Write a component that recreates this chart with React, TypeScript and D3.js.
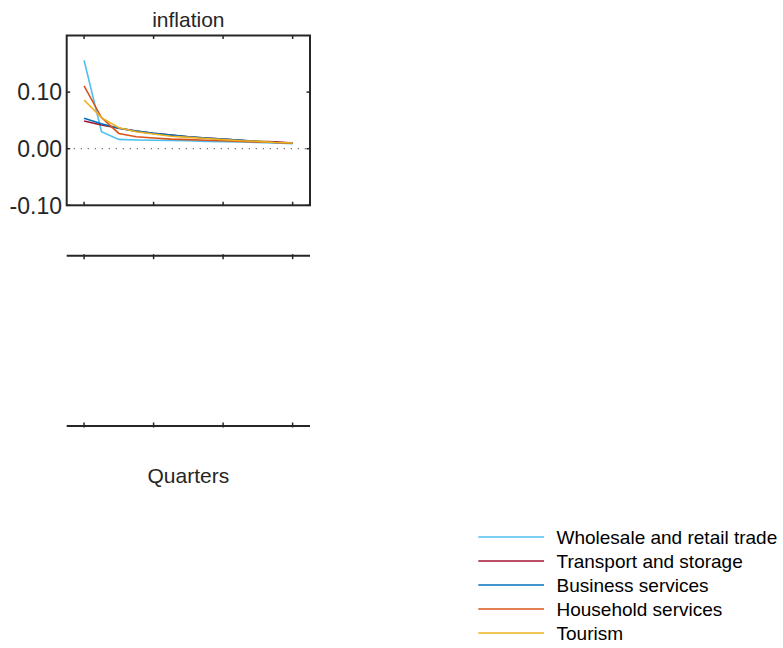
import React from "react";
import * as d3 from "d3";

// Quarter index for each response step
const quarters = [1, 2, 3, 4, 5, 6, 7, 8, 9, 10, 11, 12, 13];
const xTicks = [1, 5, 9, 13];
const yTicks = [-0.1, 0, 0.1];
const yTickLabels = ["-0.10", "0.00", "0.10"];

const sectorNames = [
  "Wholesale and retail trade",
  "Transport and storage",
  "Business services",
  "Household services",
  "Tourism",
];
const sectorColors = ["#4DBEEE", "#A2142F", "#0072BD", "#D95319", "#EDB120"];

// Inflation response per sector
const wholesale = [0.156, 0.03, 0.0165, 0.0155, 0.015, 0.0145, 0.014, 0.013, 0.0125, 0.012, 0.011, 0.01, 0.009];
const transport = [0.049, 0.042, 0.036, 0.031, 0.027, 0.024, 0.021, 0.019, 0.017, 0.015, 0.013, 0.012, 0.01];
const business = [0.054, 0.044, 0.036, 0.031, 0.027, 0.024, 0.021, 0.019, 0.017, 0.015, 0.013, 0.011, 0.01];
const household = [0.111, 0.055, 0.027, 0.021, 0.019, 0.017, 0.016, 0.015, 0.014, 0.013, 0.012, 0.011, 0.01];
const tourism = [0.086, 0.055, 0.037, 0.03, 0.026, 0.022, 0.02, 0.018, 0.016, 0.014, 0.013, 0.011, 0.01];

const seriesValues = [wholesale, transport, business, household, tourism];

const W = 783;
const H = 648;
const FONT = "'Liberation Sans', Arial, Helvetica, sans-serif";
const AX = "#262626";

export default function App() {
  const left = 66.7;
  const right = 310;
  const top = 35.5;
  const bottom = 205.3;

  const x = d3.scaleLinear().domain([0, 14]).range([left, right]);
  const y = d3.scaleLinear().domain([-0.1, 0.2]).range([bottom, top]);

  const line = d3
    .line<number>()
    .x((_, i) => x(quarters[i]))
    .y((d) => y(d));

  const emptyAxes = [
    { yPos: 255.7, dir: 1 },
    { yPos: 426, dir: -1 },
  ];

  const legendX1 = 478.3;
  const legendX2 = 544;
  const legendTextX = 556.5;
  const legendY0 = 537;
  const legendStep = 24;

  return (
    <svg
      width={W}
      height={H}
      style={{ position: "absolute", left: 0, top: 0, background: "#fff" }}
      fontFamily={FONT}
    >
      <rect x={0} y={0} width={W} height={H} fill="#fff" />

      {/* title */}
      <text x={(left + right) / 2} y={27} textAnchor="middle" fontSize={21} fill={AX}>
        inflation
      </text>

      {/* zero reference */}
      <line
        x1={left}
        x2={right}
        y1={y(0)}
        y2={y(0)}
        stroke="#777"
        strokeWidth={1.3}
        strokeDasharray="1.3 5.7"
      />

      {/* series */}
      {seriesValues.map((vals, i) => (
        <path key={i} d={line(vals) || ""} fill="none" stroke={sectorColors[i]} strokeWidth={1.6} />
      ))}

      {/* box */}
      <rect x={left} y={top} width={right - left} height={bottom - top} fill="none" stroke={AX} strokeWidth={2} />

      {/* x ticks, inward on bottom and top */}
      {xTicks.map((t) => (
        <g key={t}>
          <line x1={x(t)} x2={x(t)} y1={bottom} y2={bottom - 3.5} stroke={AX} strokeWidth={1.5} />
          <line x1={x(t)} x2={x(t)} y1={top} y2={top + 3.5} stroke={AX} strokeWidth={1.5} />
        </g>
      ))}

      {/* y ticks and labels */}
      {yTicks.map((t, i) => (
        <g key={t}>
          <line x1={left} x2={left + 3.5} y1={y(t)} y2={y(t)} stroke={AX} strokeWidth={1.5} />
          <line x1={right} x2={right - 3.5} y1={y(t)} y2={y(t)} stroke={AX} strokeWidth={1.5} />
          <text x={62} y={y(t)} dy="0.36em" textAnchor="end" fontSize={23} fill={AX}>
            {yTickLabels[i]}
          </text>
        </g>
      ))}

      {/* empty panels: only their horizontal axis */}
      {emptyAxes.map((a, k) => (
        <g key={k}>
          <line x1={left} x2={right} y1={a.yPos} y2={a.yPos} stroke={AX} strokeWidth={2} />
          {xTicks.map((t) => (
            <line
              key={t}
              x1={x(t)}
              x2={x(t)}
              y1={a.yPos - a.dir * 1.5}
              y2={a.yPos + a.dir * 3.5}
              stroke={AX}
              strokeWidth={1.5}
            />
          ))}
        </g>
      ))}

      {/* x label */}
      <text x={(left + right) / 2} y={483} textAnchor="middle" fontSize={21} fill={AX}>
        Quarters
      </text>

      {/* legend */}
      {sectorNames.map((name, i) => {
        const ly = legendY0 + i * legendStep;
        return (
          <g key={name}>
            <line x1={legendX1} x2={legendX2} y1={ly} y2={ly} stroke={sectorColors[i]} strokeWidth={1.6} />
            <text x={legendTextX} y={ly} dy="0.36em" fontSize={19} fill="#000">
              {name}
            </text>
          </g>
        );
      })}
    </svg>
  );
}
